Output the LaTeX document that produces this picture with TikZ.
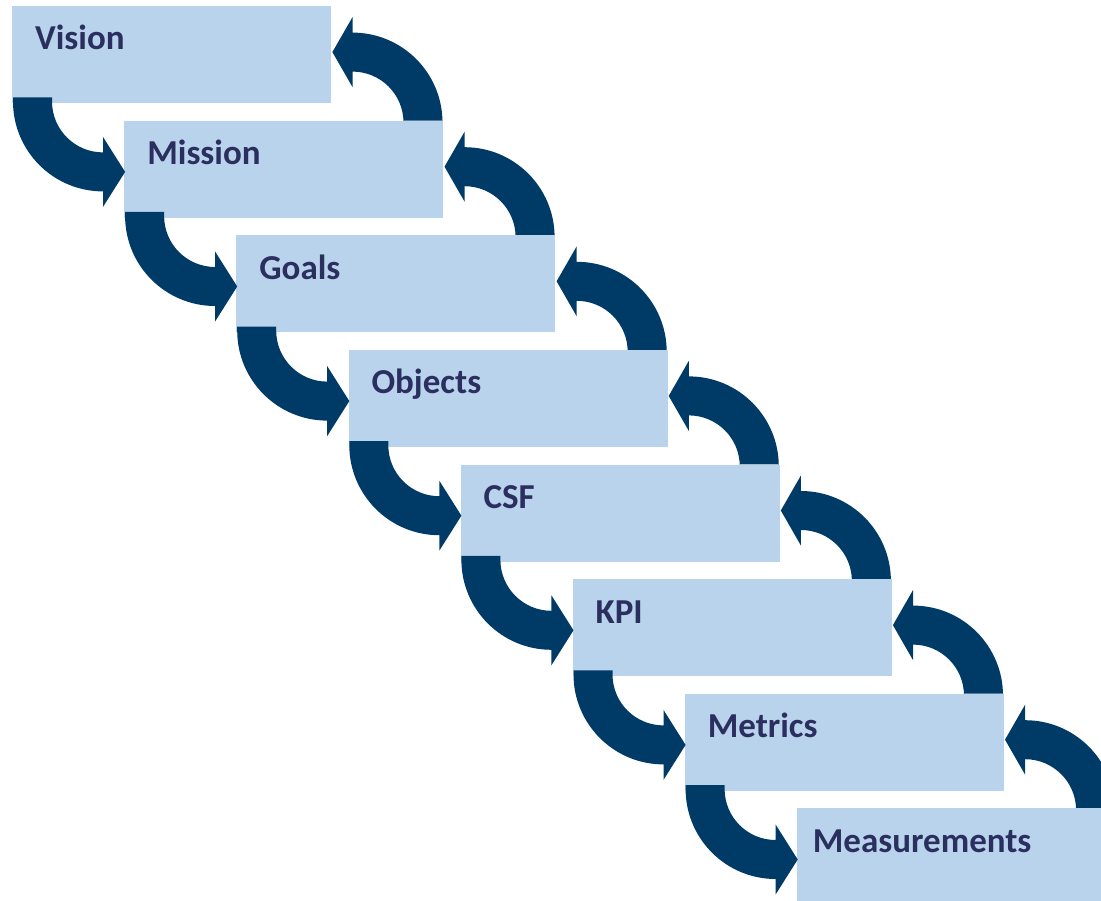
\documentclass[tikz,border=0pt]{standalone}
\usepackage{fontspec}
\setmainfont{Carlito}
\usetikzlibrary{calc}
\definecolor{boxfill}{HTML}{BAD3EC}
\definecolor{arrowblue}{HTML}{003B68}
\definecolor{labelink}{HTML}{2B2F5F}
\pgfdeclarelayer{paper}
\pgfdeclarelayer{background}
\pgfsetlayers{paper,background,main}

% curved arrow leaving the lower-left corner of #1 and pointing into the left side of #2
\newcommand{\stepdown}[2]{%
  \fill[flowarrow] let \p1=(#1.south west), \p2=(#2.north west),
      \p3=(\x1+91pt,\y1+2pt) in
    (\x1+1pt,\y1+6pt) -- (\x1+1pt,\y3)
    arc[start angle=180,end angle=270,radius=90pt]
    -- (\x3,\y3-105.5pt) -- (\x2+1pt,\y3-70.5pt) -- (\x3,\y3-35.5pt)
    -- (\x3,\y3-51pt)
    arc[start angle=270,end angle=180,radius=51pt]
    -- (\x1+40pt,\y1+6pt) -- cycle;}

% curved arrow rising from the top of #1 and pointing into the right side of #2
\newcommand{\stepup}[2]{%
  \fill[flowarrow] let \p1=(#1.north east), \p2=(#2.north east),
      \p3=(\x1-91pt,\y1-2pt) in
    (\x1-1pt,\y1) -- (\x1-1pt,\y3)
    arc[start angle=0,end angle=90,radius=90pt]
    -- (\x3,\y3+105.5pt) -- (\x2+1pt,\y3+70.5pt) -- (\x3,\y3+35.5pt)
    -- (\x3,\y3+51pt)
    arc[start angle=90,end angle=0,radius=51pt]
    -- (\x3+51pt,\y1) -- cycle;}

\begin{document}
\begin{tikzpicture}[x=1pt,y=-1pt,
  stagebox/.style={fill=boxfill, draw=none, anchor=north west, inner sep=0pt,
    minimum width=319pt, minimum height=97pt},
  stagelabel/.style={anchor=base west, inner sep=0pt, text=labelink,
    font=\fontsize{35}{40}\selectfont\bfseries},
  flowarrow/.style={fill=arrowblue}]
\useasboundingbox (0,0) rectangle (1101,901);
\begin{pgfonlayer}{paper}
\fill[white] (0,0) rectangle (1101,901);
\end{pgfonlayer}

% the eight stages, stepping down to the right
\foreach \i/\name/\txt/\dx in {0/s0/Vision/23,1/s1/Mission/23,2/s2/Goals/23,
    3/s3/Objects/23,4/s4/CSF/23,5/s5/KPI/23,6/s6/Metrics/23,7/s7/Measurements/16}{
  \node[stagebox] (\name) at ({12+112.1*\i},{6+114.6*\i}) {};
  \node[stagelabel] (\name-t) at ($(\name.north west)+(\dx,44)$) {\txt};
}

% feedback arrows sit behind the boxes
\begin{pgfonlayer}{background}
\foreach \a/\b in {s0/s1,s1/s2,s2/s3,s3/s4,s4/s5,s5/s6,s6/s7}{
  \stepup{\b}{\a}
}
\end{pgfonlayer}

% forward arrows sit on top of the boxes
\foreach \a/\b in {s0/s1,s1/s2,s2/s3,s3/s4,s4/s5,s5/s6,s6/s7}{
  \stepdown{\a}{\b}
}
\end{tikzpicture}
\end{document}
